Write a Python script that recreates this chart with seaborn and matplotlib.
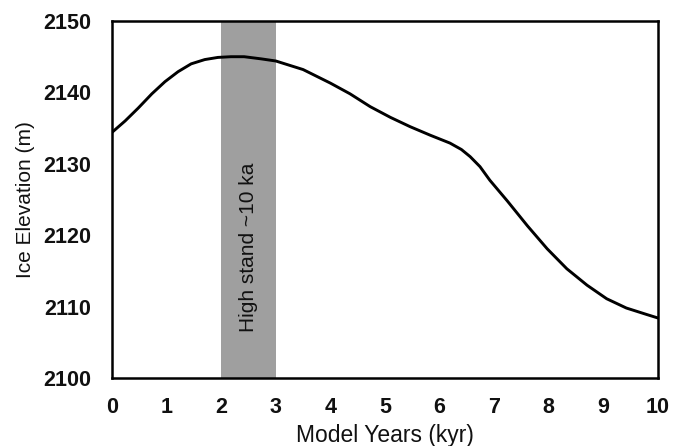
import matplotlib
matplotlib.use("Agg")
import matplotlib.pyplot as plt
import seaborn as sns
import pandas as pd

# Modelled ice-surface elevation through time
model_years = [0.0, 0.24, 0.48, 0.73, 0.97, 1.21, 1.45, 1.70, 1.94, 2.18, 2.42,
               2.73, 3.0, 3.5, 4.0, 4.36, 4.73, 5.1, 5.46, 5.83, 6.19, 6.4, 6.56,
               6.74, 6.92, 7.24, 7.61, 7.97, 8.33, 8.70, 9.06, 9.42, 9.79, 10.0]
ice_elevation = [2134.4, 2136.0, 2137.8, 2139.8, 2141.5, 2142.9, 2144.0, 2144.6,
                 2144.9, 2145.0, 2145.0, 2144.7, 2144.4, 2143.2, 2141.3, 2139.8,
                 2138.0, 2136.5, 2135.2, 2134.0, 2132.9, 2132.0, 2131.0, 2129.6,
                 2127.7, 2124.8, 2121.3, 2118.1, 2115.3, 2113.0, 2111.1, 2109.8,
                 2108.9, 2108.4]

# High-stand window (kyr)
band_start, band_end = 2.0, 3.0
band_label = "High stand ~10 ka"

x_ticks = list(range(0, 11))
y_ticks = [2100, 2110, 2120, 2130, 2140, 2150]

df = pd.DataFrame({"Model Years (kyr)": model_years, "Ice Elevation (m)": ice_elevation})

sns.set_theme(style="white")
plt.rcParams["font.family"] = ["Liberation Sans", "DejaVu Sans"]

fig = plt.figure(figsize=(6.73, 4.46), dpi=100)
ax = fig.add_axes([0.1664, 0.1525, 0.8113, 0.8004])

ax.axvspan(band_start, band_end, color="#9f9f9f", lw=0, zorder=1)
sns.lineplot(data=df, x="Model Years (kyr)", y="Ice Elevation (m)", ax=ax,
             color="black", lw=2.1, zorder=3)

ax.text((band_start + band_end) / 2, 2118.3, band_label, rotation=90,
        ha="center", va="center", fontsize=15, color="#111111", zorder=2)

ax.set_xlim(0, 10)
ax.set_ylim(2100, 2150)
ax.set_xticks(x_ticks)
ax.set_yticks(y_ticks)
ax.tick_params(axis="both", direction="out", length=5, width=1.4,
               color="black", labelsize=15.5, labelcolor="#111111")
ax.tick_params(axis="x", pad=9)
ax.tick_params(axis="y", pad=10)
for lab in ax.get_xticklabels() + ax.get_yticklabels():
    lab.set_fontweight("bold")

for side in ["left", "right", "top", "bottom"]:
    ax.spines[side].set_visible(True)
    ax.spines[side].set_color("black")
    ax.spines[side].set_linewidth(1.8)

ax.set_xlabel("Model Years (kyr)", fontsize=16.5, color="#111111", labelpad=4)
ax.set_ylabel("Ice Elevation (m)", fontsize=15, color="#111111", labelpad=6)

fig.savefig("out.png", dpi=100)
